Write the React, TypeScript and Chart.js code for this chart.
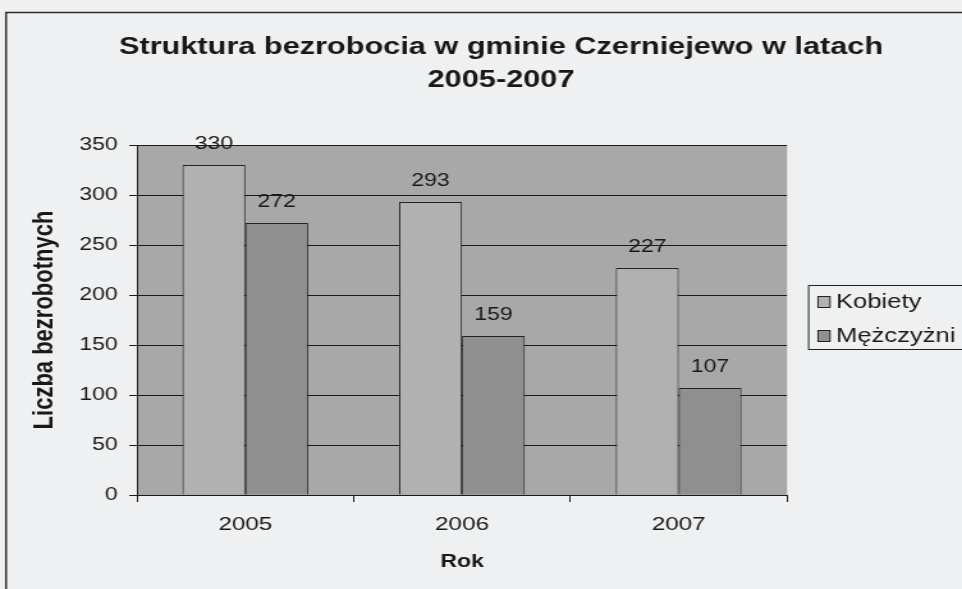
import React, { useEffect, useRef } from "react";
import { Chart, registerables } from "chart.js";

Chart.register(...registerables);

const titleLines = ["Struktura bezrobocia w gminie Czerniejewo w latach", "2005-2007"];
const years = ["2005", "2006", "2007"];
const seriesNames = ["Kobiety", "Mężczyżni"];
const kobiety = [330, 293, 227];
const mezczyzni = [272, 159, 107];
const yMin = 0;
const yMax = 350;
const yStep = 50;
const yAxisTitle = "Liczba bezrobotnych";
const xAxisTitle = "Rok";

const FONT = "'Liberation Sans', Arial, Helvetica, sans-serif";
const INK = "#181818";
const SX = 962 / 752; // horizontal stretch of the scanned original

const decorPlugin = {
  id: "decor",
  beforeDraw(chart: any) {
    const { ctx, chartArea } = chart;
    ctx.save();
    ctx.fillStyle = "#a8a8a8";
    ctx.fillRect(chartArea.left, chartArea.top, chartArea.right - chartArea.left, chartArea.bottom - chartArea.top);
    // outer frame
    ctx.strokeStyle = "#2a2a2a";
    ctx.lineWidth = 1.5;
    ctx.strokeRect(6 / SX, 12.5, 3000, 3000);
    ctx.restore();
  },
  afterDatasetsDraw(chart: any) {
    const { ctx } = chart;
    ctx.save();
    ctx.font = `18px ${FONT}`;
    ctx.fillStyle = INK;
    ctx.textAlign = "center";
    ctx.textBaseline = "middle";
    chart.data.datasets.forEach((ds: any, i: number) => {
      const meta = chart.getDatasetMeta(i);
      meta.data.forEach((el: any, j: number) => {
        ctx.fillText(String(ds.data[j]), el.x, el.y - 21);
      });
    });
    ctx.restore();
  },
  afterDraw(chart: any) {
    const { ctx } = chart;
    ctx.save();
    // title
    ctx.font = `bold 24px ${FONT}`;
    ctx.fillStyle = INK;
    ctx.textAlign = "center";
    ctx.textBaseline = "middle";
    const cx = 501 / SX;
    titleLines.forEach((t, i) => ctx.fillText(t, cx, 47 + i * 33));
    // legend
    const lx = 808 / SX;
    ctx.strokeStyle = "#222";
    ctx.lineWidth = 1;
    ctx.strokeRect(lx + 0.5, 285.5, 400, 64);
    ctx.font = `20px ${FONT}`;
    ctx.textAlign = "left";
    chart.data.datasets.forEach((ds: any, i: number) => {
      const y = 302 + i * 34;
      ctx.fillStyle = ds.backgroundColor;
      ctx.fillRect(818 / SX, y - 5.5, 12 / SX, 11);
      ctx.strokeStyle = "#222";
      ctx.strokeRect(818 / SX, y - 5.5, 12 / SX, 11);
      ctx.fillStyle = INK;
      ctx.fillText(ds.label, 836 / SX, y);
    });
    ctx.restore();
  },
};

export default function App() {
  const ref = useRef<HTMLCanvasElement>(null);
  useEffect(() => {
    if (!ref.current) return;
    const chart = new Chart(ref.current, {
      type: "bar",
      data: {
        labels: years,
        datasets: [
          {
            label: seriesNames[0],
            data: kobiety,
            backgroundColor: "#b1b1b1",
            borderColor: "#222",
            borderWidth: 1,
            categoryPercentage: 0.58,
            barPercentage: 1.0,
          },
          {
            label: seriesNames[1],
            data: mezczyzni,
            backgroundColor: "#8f8f8f",
            borderColor: "#222",
            borderWidth: 1,
            categoryPercentage: 0.58,
            barPercentage: 1.0,
          },
        ],
      },
      options: {
        responsive: false,
        maintainAspectRatio: false,
        devicePixelRatio: 1,
        animation: false,
        layout: { padding: { top: 145, right: 752 - 787 / SX, bottom: 0, left: 0 } },
        plugins: {
          legend: { display: false },
          title: { display: false },
          tooltip: { enabled: false },
        },
        scales: {
          y: {
            min: yMin,
            max: yMax,
            ticks: { stepSize: yStep, color: INK, font: { family: FONT, size: 18 }, padding: 9 },
            grid: { color: "#1a1a1a", lineWidth: 1, tickLength: 6, drawTicks: true },
            border: { color: "#1a1a1a", width: 1 },
            title: {
              display: true,
              text: yAxisTitle,
              color: INK,
              font: { family: FONT, size: 22, weight: "bold" },
              padding: { top: 22, bottom: 0 },
            },
            afterFit: (s: any) => {
              s.width = 137 / SX;
            },
          },
          x: {
            grid: { color: "#1a1a1a", drawOnChartArea: false, drawTicks: true, tickLength: 7, offset: true },
            border: { color: "#1a1a1a", width: 1 },
            ticks: { color: INK, font: { family: FONT, size: 19 }, padding: 11 },
            title: {
              display: true,
              text: xAxisTitle,
              color: INK,
              font: { family: FONT, size: 18, weight: "bold" },
              padding: { top: 0, bottom: 16 },
            },
            afterFit: (s: any) => {
              s.height = 94;
            },
          },
        },
      },
      plugins: [decorPlugin],
    });
    return () => chart.destroy();
  }, []);
  return (
    <div
      style={{
        position: "fixed",
        left: 0,
        top: 0,
        width: 962,
        height: 589,
        overflow: "hidden",
        background: "#eff0f1",
      }}
    >
      <canvas ref={ref} width={752} height={589} style={{ width: "962px", height: "589px", display: "block" }} />
    </div>
  );
}
